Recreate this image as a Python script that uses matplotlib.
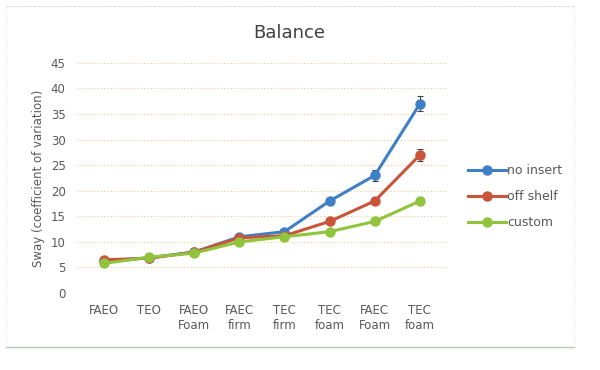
import matplotlib
matplotlib.use("Agg")
import matplotlib.pyplot as plt
from matplotlib.lines import Line2D

conditions = ["FAEO", "TEO", "FAEO\nFoam", "FAEC\nfirm", "TEC\nfirm",
              "TEC\nfoam", "FAEC\nFoam", "TEC\nfoam"]
no_insert = [6.2, 6.9, 8.0, 11.0, 12.0, 18.0, 23.0, 37.0]
no_insert_err = [0.3, 0.3, 0.3, 0.4, 0.4, 0.6, 1.0, 1.5]
off_shelf = [6.5, 6.8, 8.0, 10.8, 11.2, 14.0, 18.0, 27.0]
off_shelf_err = [0.3, 0.3, 0.3, 0.4, 0.4, 0.5, 0.6, 1.2]
custom = [5.8, 7.0, 7.8, 10.0, 11.0, 12.0, 14.0, 18.0]
custom_err = [0.3, 0.3, 0.3, 0.3, 0.3, 0.4, 0.4, 0.6]

fig = plt.figure(figsize=(6.0, 3.7), dpi=100)
ax = fig.add_axes([0.128, 0.208, 0.617, 0.622])

x = range(len(conditions))
series = [("no insert", no_insert, no_insert_err, "#3f7fc6"),
          ("off shelf", off_shelf, off_shelf_err, "#c8553a"),
          ("custom", custom, custom_err, "#8fc43c")]
for name, y, e, c in series:
    ax.errorbar(x, y, yerr=e, color=c, lw=2.2, marker="o", ms=6.5,
                ecolor="#404040", elinewidth=0.8, capsize=2.5, capthick=0.8,
                label=name)

ax.set_xlim(-0.6, len(conditions) - 0.4)
ax.set_ylim(0, 45)
ax.set_yticks(range(0, 46, 5))
ax.set_xticks(list(x))
ax.set_xticklabels(conditions)
ax.tick_params(length=0, labelsize=8.5, colors="#595959", pad=8)
ax.grid(True, axis="y", color="#f5c98a", ls=(0, (1, 2)), lw=0.8)
for s in ax.spines.values():
    s.set_visible(False)
ax.set_ylabel("Sway (coefficient of variation)", fontsize=8.5, color="#595959")
fig.text(0.482, 0.912, "Balance", fontsize=13, color="#404040",
         ha="center", va="center")

handles = [Line2D([0], [0], color=c, lw=2.2, marker="o", ms=6.5)
           for _, _, _, c in series]
fig.legend(handles, [s[0] for s in series], loc="center left",
           bbox_to_anchor=(0.77, 0.468), frameon=False, fontsize=9,
           labelcolor="#595959", handlelength=3.0, handletextpad=0.1,
           labelspacing=1.05, borderpad=0)

# chart frame
fig.add_artist(Line2D([0.01, 0.957], [0.062, 0.062], color="#b8c8bc", lw=1))
fig.add_artist(Line2D([0.01, 0.957], [0.985, 0.985], color="#d8e0d8", lw=0.8,
                      ls=(0, (3, 1))))
fig.add_artist(Line2D([0.01, 0.01], [0.062, 0.985], color="#f5d8e0", lw=0.8,
                      ls=(0, (1, 2))))
fig.add_artist(Line2D([0.957, 0.957], [0.062, 0.985], color="#f5d8e0", lw=0.8,
                      ls=(0, (1, 2))))

fig.savefig("out.png", dpi=100)
